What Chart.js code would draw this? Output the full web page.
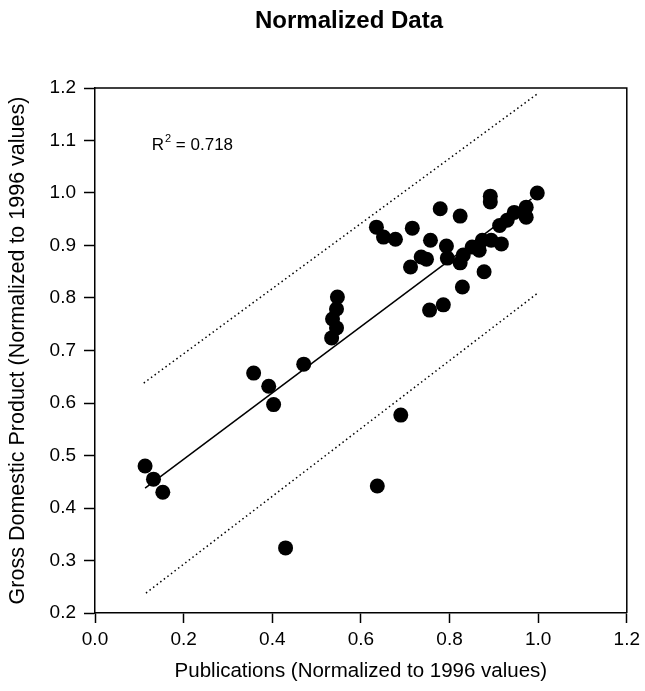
<!DOCTYPE html>
<html><head><meta charset="utf-8">
<script src="https://cdn.jsdelivr.net/npm/chart.js@4/dist/chart.umd.min.js"></script>
<style>html,body{margin:0;padding:0;background:#fff;}</style>
</head><body>
<canvas id="c" width="645" height="691" style="display:block;width:645px;height:691px"></canvas>
<script>
// ---- data ----
const chartTitle = 'Normalized Data';
const xAxisTitle = 'Publications (Normalized to 1996 values)';
const yAxisTitle = 'Gross Domestic Product (Normalized to 1996 values)';
const xTickValues = [0.0, 0.2, 0.4, 0.6, 0.8, 1.0, 1.2];
const yTickValues = [0.2, 0.3, 0.4, 0.5, 0.6, 0.7, 0.8, 0.9, 1.0, 1.1, 1.2];
const publications = [0.113, 0.132, 0.153, 0.358, 0.392, 0.403, 0.471, 0.430, 0.547, 0.545,
  0.536, 0.545, 0.534, 0.637, 0.690, 0.635, 0.651, 0.678, 0.716, 0.757,
  0.779, 0.824, 0.892, 0.892, 0.998, 0.973, 0.973, 0.946, 0.930, 0.913,
  0.874, 0.894, 0.917, 0.867, 0.851, 0.831, 0.824, 0.793, 0.795, 0.736,
  0.748, 0.712, 0.878, 0.829, 0.755, 0.786];
const gdp = [0.480, 0.455, 0.430, 0.657, 0.632, 0.597, 0.674, 0.324, 0.802, 0.779,
  0.760, 0.743, 0.724, 0.442, 0.577, 0.935, 0.916, 0.912, 0.933, 0.910,
  0.970, 0.956, 0.994, 0.983, 1.000, 0.973, 0.954, 0.963, 0.948, 0.938,
  0.910, 0.910, 0.903, 0.891, 0.897, 0.882, 0.867, 0.899, 0.876, 0.878,
  0.874, 0.859, 0.850, 0.821, 0.777, 0.787];
const fitX = [0.113, 0.985];
const fitY = [0.438, 0.989];
const upperBandX = [0.110, 1.000];
const upperBandY = [0.638, 1.190];
const lowerBandX = [0.115, 1.000];
const lowerBandY = [0.238, 0.810];
const rSquaredLabel = '0.718';
const rLabelPos = [0.128, 1.091];

// ---- build ----
const pts = (xs, ys) => xs.map((x, i) => ({x: x, y: ys[i]}));
const FONT = '"Liberation Sans", Arial, Helvetica, sans-serif';

const decor = {
  id: 'decor',
  afterDraw(chart) {
    const {ctx, chartArea: a, scales} = chart;
    ctx.save();
    ctx.strokeStyle = '#000';
    ctx.lineWidth = 1.5;
    ctx.beginPath();
    ctx.moveTo(a.left, a.top); ctx.lineTo(a.right, a.top); ctx.lineTo(a.right, a.bottom);
    ctx.stroke();
    ctx.fillStyle = '#000';
    ctx.textAlign = 'center';
    ctx.textBaseline = 'middle';
    ctx.font = 'bold 24px ' + FONT;
    ctx.fillText(chartTitle, 349, 21);
    const px = scales.x.getPixelForValue(rLabelPos[0]);
    const py = scales.y.getPixelForValue(rLabelPos[1]);
    ctx.textAlign = 'left';
    ctx.font = '17px ' + FONT;
    ctx.fillText('R', px, py);
    const w = ctx.measureText('R').width;
    ctx.font = '11px ' + FONT;
    ctx.fillText('2', px + w + 1, py - 6);
    const w2 = ctx.measureText('2').width;
    ctx.font = '17px ' + FONT;
    ctx.fillText(' = ' + rSquaredLabel, px + w + w2 + 1, py);
    ctx.restore();
  }
};

new Chart(document.getElementById('c'), {
  type: 'scatter',
  data: {
    datasets: [
      { data: pts(publications, gdp), backgroundColor: '#000', borderColor: '#000', pointRadius: 7.5, borderWidth: 0, order: 0 },
      { data: pts(fitX, fitY), showLine: true, borderColor: '#000', borderWidth: 1.5, pointRadius: 0, order: 1 },
      { data: pts(upperBandX, upperBandY), showLine: true, borderColor: '#000', borderWidth: 1.5, borderDash: [1.5, 3], pointRadius: 0, order: 1 },
      { data: pts(lowerBandX, lowerBandY), showLine: true, borderColor: '#000', borderWidth: 1.5, borderDash: [1.5, 3], pointRadius: 0, order: 1 }
    ]
  },
  options: {
    responsive: false,
    animation: false,
    devicePixelRatio: 1,
    layout: { padding: { left: 0, top: 88, right: 17, bottom: 0 } },
    plugins: { legend: { display: false }, tooltip: { enabled: false }, title: { display: false } },
    scales: {
      x: {
        type: 'linear', min: 0, max: 1.2,
        afterBuildTicks: s => { s.ticks = xTickValues.map(v => ({value: v})); },
        afterFit: s => { s.height = 78; },
        ticks: { color: '#000', font: { family: FONT, size: 19 }, padding: 5, callback: v => Number(v).toFixed(1), maxRotation: 0, autoSkip: false },
        grid: { drawOnChartArea: false, drawTicks: true, tickLength: 10, tickColor: '#000', tickWidth: 1.5 },
        border: { display: true, color: '#000', width: 1.5 },
        title: { display: true, text: xAxisTitle, color: '#000', font: { family: FONT, size: 20.5 }, padding: { top: 0, bottom: 7 } }
      },
      y: {
        type: 'linear', min: 0.2, max: 1.2,
        afterBuildTicks: s => { s.ticks = yTickValues.map(v => ({value: v})); },
        afterFit: s => { s.width = 95; },
        ticks: { color: '#000', font: { family: FONT, size: 19 }, padding: 8, callback: v => Number(v).toFixed(1), autoSkip: false },
        grid: { drawOnChartArea: false, drawTicks: true, tickLength: 11, tickColor: '#000', tickWidth: 1.5 },
        border: { display: true, color: '#000', width: 1.5 },
        title: { display: true, text: yAxisTitle, color: '#000', font: { family: FONT, size: 21.5 }, padding: { top: 5, bottom: 0 } }
      }
    }
  },
  plugins: [decor]
});
</script>
</body></html>
